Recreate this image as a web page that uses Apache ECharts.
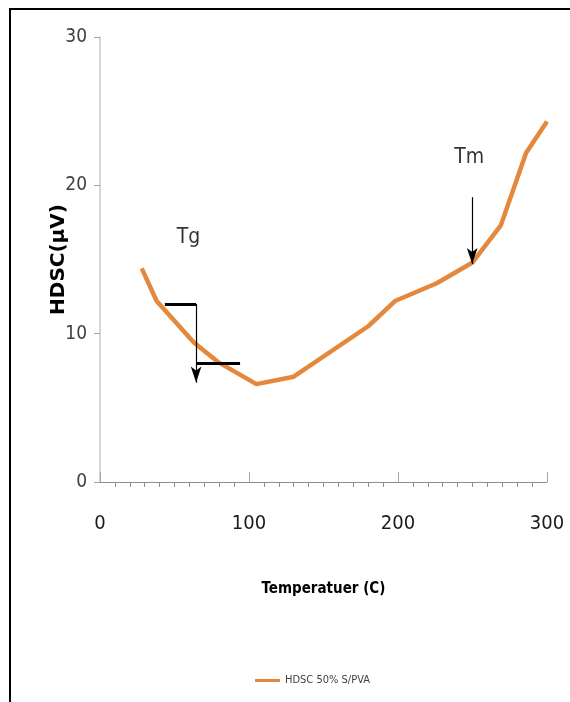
<!DOCTYPE html>
<html>
<head>
<meta charset="utf-8">
<script src="https://cdn.jsdelivr.net/npm/echarts@6/dist/echarts.min.js"></script>
<style>
    html, body { margin: 0; padding: 0; background: #fff; }
    #frame {
        position: absolute; left: 9px; top: 8px;
        width: 620px; height: 720px;
        border: 2px solid #000;
    }
    #chart { position: absolute; left: 0; top: 0; width: 570px; height: 702px; }
</style>
</head>
<body>
<div id="frame"></div>
<div id="chart"></div>
<script>
// Datos
const temps = [28, 38, 63, 79, 105, 130, 180, 198, 226, 250, 269, 286, 300];
const hdsc = [14.4, 12.2, 9.4, 8.1, 6.6, 7.1, 10.5, 12.2, 13.4, 14.8, 17.3, 22.2, 24.3];
const xTicks = [0, 100, 200, 300];
const yTicks = [0, 10, 20, 30];
const seriesName = 'HDSC 50% S/PVA';

// Anotaciones (Tg / Tm)
const tgBars = [[[43.5, 12.0], [64.5, 12.0]], [[64.5, 8.0], [94, 8.0]]];
const tgArrow = [[64.5, 12.0], [64.5, 6.7]];
const tmArrow = [[249.8, 19.2], [249.8, 14.7]];
const noteNames = ['Tg', 'Tm'];
const notePos = [[59.4, 16.5], [247.8, 21.9]];

const narrow = "'Liberation Sans Narrow', 'DejaVu Sans Condensed', sans-serif";
const orange = '#E3883D';

var chart = echarts.init(document.getElementById('chart'));

const barLines = tgBars.map(b => [
    { coord: b[0], symbol: 'none', lineStyle: { width: 3, color: '#000', type: 'solid' } },
    { coord: b[1], symbol: 'none' }
]);
const arrowLines = [tgArrow, tmArrow].map(a => [
    { coord: a[0], symbol: 'none', lineStyle: { width: 1.2, color: '#000', type: 'solid' } },
    { coord: a[1], symbol: 'arrow', symbolSize: [8, 16] }
]);

var option = {
    animation: false,
    grid: { left: 100, right: 23, top: 37, bottom: 220 },
    legend: {
        data: [seriesName],
        left: 250,
        top: 670,
        icon: 'rect',
        itemWidth: 25,
        itemHeight: 3,
        itemGap: 4,
        textStyle: { fontFamily: narrow, fontSize: 11, color: '#404040' },
        itemStyle: { color: orange }
    },
    xAxis: {
        type: 'value',
        min: xTicks[0],
        max: xTicks[xTicks.length - 1],
        interval: 100,
        name: 'Temperatuer (C)',
        nameLocation: 'middle',
        nameGap: 100,
        nameMoveOverlap: false,
        nameTextStyle: { fontFamily: narrow, fontWeight: 'bold', fontSize: 15, color: '#000' },
        axisLine: { lineStyle: { color: '#8c8c8c', width: 1 } },
        axisTick: { inside: true, length: 10, lineStyle: { color: '#a6a6a6' } },
        minorTick: { show: true, splitNumber: 10, length: -5, lineStyle: { color: '#8c8c8c' } },
        axisLabel: { margin: 32, fontFamily: narrow, fontSize: 20, color: '#1a1a1a' },
        splitLine: { show: false }
    },
    yAxis: {
        type: 'value',
        min: yTicks[0],
        max: yTicks[yTicks.length - 1],
        interval: 10,
        name: 'HDSC(μV)',
        nameLocation: 'middle',
        nameGap: 31,
        nameMoveOverlap: false,
        nameRotate: 90,
        nameTextStyle: { fontFamily: 'DejaVu Sans', fontWeight: 'bold', fontSize: 20, color: '#000' },
        axisLine: { show: true, lineStyle: { color: '#c8c8c8', width: 1.5 } },
        axisTick: { show: true, length: 6, lineStyle: { color: '#a6a6a6' } },
        axisLabel: { margin: 13, fontFamily: narrow, fontSize: 19, color: '#404040' },
        splitLine: { show: false }
    },
    series: [
        {
            name: seriesName,
            type: 'line',
            data: temps.map((t, i) => [t, hdsc[i]]),
            symbol: 'none',
            lineStyle: { width: 4.5, color: orange },
            itemStyle: { color: orange },
            markLine: {
                silent: true,
                symbol: ['none', 'none'],
                label: { show: false },
                emphasis: { disabled: true },
                data: barLines.concat(arrowLines)
            },
            z: 2
        },
        {
            name: 'notas',
            type: 'scatter',
            data: noteNames.map((n, i) => ({ name: n, value: notePos[i] })),
            symbolSize: 0,
            silent: true,
            label: {
                show: true,
                position: 'inside',
                formatter: '{b}',
                fontFamily: narrow,
                fontSize: 21,
                color: '#000'
            }
        }
    ]
};
chart.setOption(option);

window.addEventListener('resize', () => chart.resize());
</script>
</body>
</html>
